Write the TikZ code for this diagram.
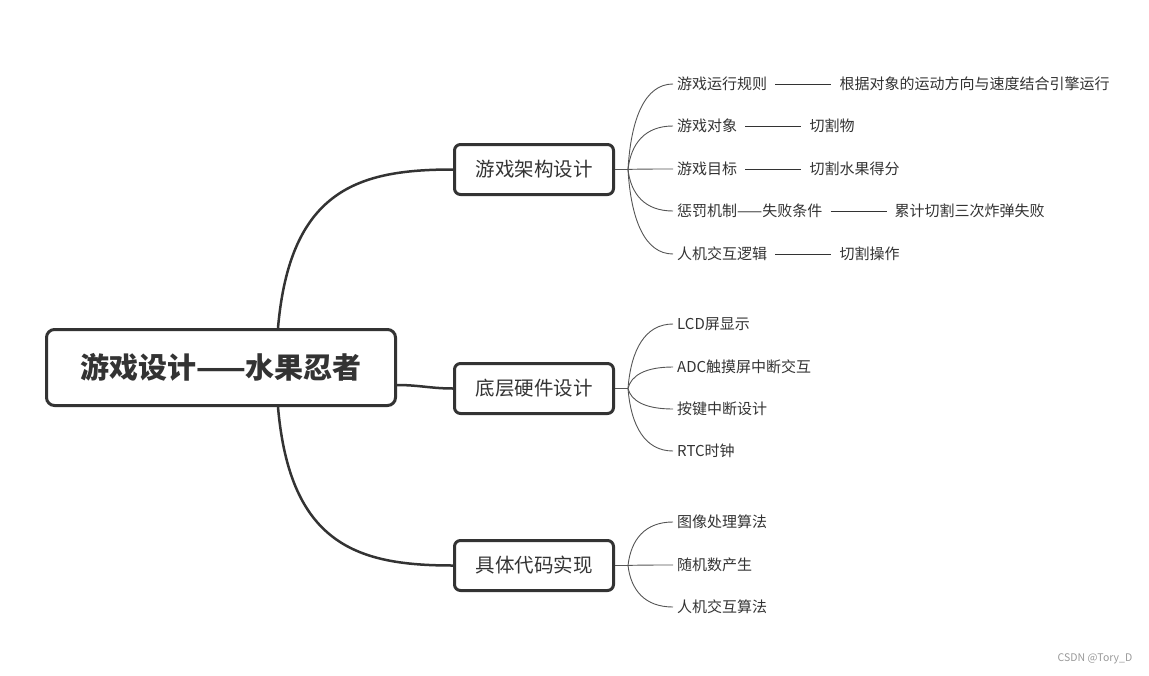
\documentclass[tikz,border=0pt]{standalone}
\usepackage{fontspec}
\setmainfont{Noto Sans CJK SC}
\usetikzlibrary{positioning,calc}
\definecolor{ink}{HTML}{333333}
\definecolor{twiggray}{HTML}{555555}
\definecolor{markgray}{HTML}{999999}

\begin{document}
\begin{tikzpicture}[x=1pt,y=-1pt,
    rootbox/.style={draw=ink,line width=3pt,rounded corners=8pt,minimum width=349pt,minimum height=76pt,
        font=\fontsize{29}{35}\selectfont\bfseries,text=ink},
    topicbox/.style={draw=ink,line width=3pt,rounded corners=6pt,minimum width=159pt,minimum height=50pt,
        font=\fontsize{19.5}{24}\selectfont,text=ink},
    leaf/.style={anchor=west,inner xsep=4pt,inner ysep=1pt,font=\fontsize{15}{18}\selectfont,text=ink},
    trunk/.style={draw=ink,line width=2.5pt},
    twig/.style={draw=twiggray,line width=0.9pt},
    stem/.style={draw=ink,line width=1pt,shorten <=4pt,shorten >=4pt}]
    \useasboundingbox (0,0) rectangle (1149,675);

    % main topic and the three branches
    \node[rootbox] (root) at (221,367.5) {游戏设计——水果忍者};
    \node[topicbox] (arch) at (534,169.5) {游戏架构设计};
    \node[topicbox] (hw) at (534,388.5) {底层硬件设计};
    \node[topicbox] (code) at (534,565.5) {具体代码实现};

    \draw[trunk] ([xshift=57pt]root.north) .. controls +(12,-139) and +(-94,0) .. (arch.west);
    \draw[trunk] ([yshift=-17.5pt]root.east) to[out=0,in=180] (hw.west);
    \draw[trunk] ([xshift=57pt]root.south) .. controls +(12,139) and +(-94,0) .. (code.west);

    \coordinate (archhub) at ($(arch.east)+(13,0)$);
    \coordinate (hwhub) at ($(hw.east)+(13,0)$);
    \coordinate (codehub) at ($(code.east)+(13,0)$);
    \draw[twig] (arch.east) -- (archhub);
    \draw[twig] (hw.east) -- (hwhub);
    \draw[twig] (code.east) -- (codehub);

    % game architecture
    \node[leaf] (rule) at (673,84) {游戏运行规则};
    \node[leaf] (obj) at (673,126) {游戏对象};
    \node[leaf] (goal) at (673,169) {游戏目标};
    \node[leaf] (pen) at (673,211) {惩罚机制——失败条件};
    \node[leaf] (hci) at (673,254) {人机交互逻辑};
    \node[leaf,right=64pt of rule] (rulex) {根据对象的运动方向与速度结合引擎运行};
    \node[leaf,right=64pt of obj] (objx) {切割物};
    \node[leaf,right=64pt of goal] (goalx) {切割水果得分};
    \node[leaf,right=64pt of pen] (penx) {累计切割三次炸弹失败};
    \node[leaf,right=64pt of hci] (hcix) {切割操作};
    \foreach \l in {rule,obj,goal,pen,hci}{
        \draw[twig] (archhub) .. controls ($(archhub)!0.6!(archhub |- \l.west)+(3,0)$)
            and ($(\l.west)+(-28,0)$) .. (\l.west);
        \draw[stem] (\l.east) -- (\l x.west);
    }

    % hardware
    \node[leaf] (lcd) at (673,324) {LCD屏显示};
    \node[leaf] (adc) at (673,367) {ADC触摸屏中断交互};
    \node[leaf] (key) at (673,409) {按键中断设计};
    \node[leaf] (rtc) at (673,451) {RTC时钟};
    \foreach \l in {lcd,adc,key,rtc}
        \draw[twig] (hwhub) .. controls ($(hwhub)!0.6!(hwhub |- \l.west)+(3,0)$)
            and ($(\l.west)+(-28,0)$) .. (\l.west);

    % code
    \node[leaf] (img) at (673,522) {图像处理算法};
    \node[leaf] (rnd) at (673,565) {随机数产生};
    \node[leaf] (alg) at (673,607) {人机交互算法};
    \foreach \l in {img,rnd,alg}
        \draw[twig] (codehub) .. controls ($(codehub)!0.6!(codehub |- \l.west)+(3,0)$)
            and ($(\l.west)+(-28,0)$) .. (\l.west);

    \node[font=\fontsize{10.5}{12}\selectfont,text=markgray] (mark) at (1095,659) {CSDN @Tory\_D};
\end{tikzpicture}
\end{document}
